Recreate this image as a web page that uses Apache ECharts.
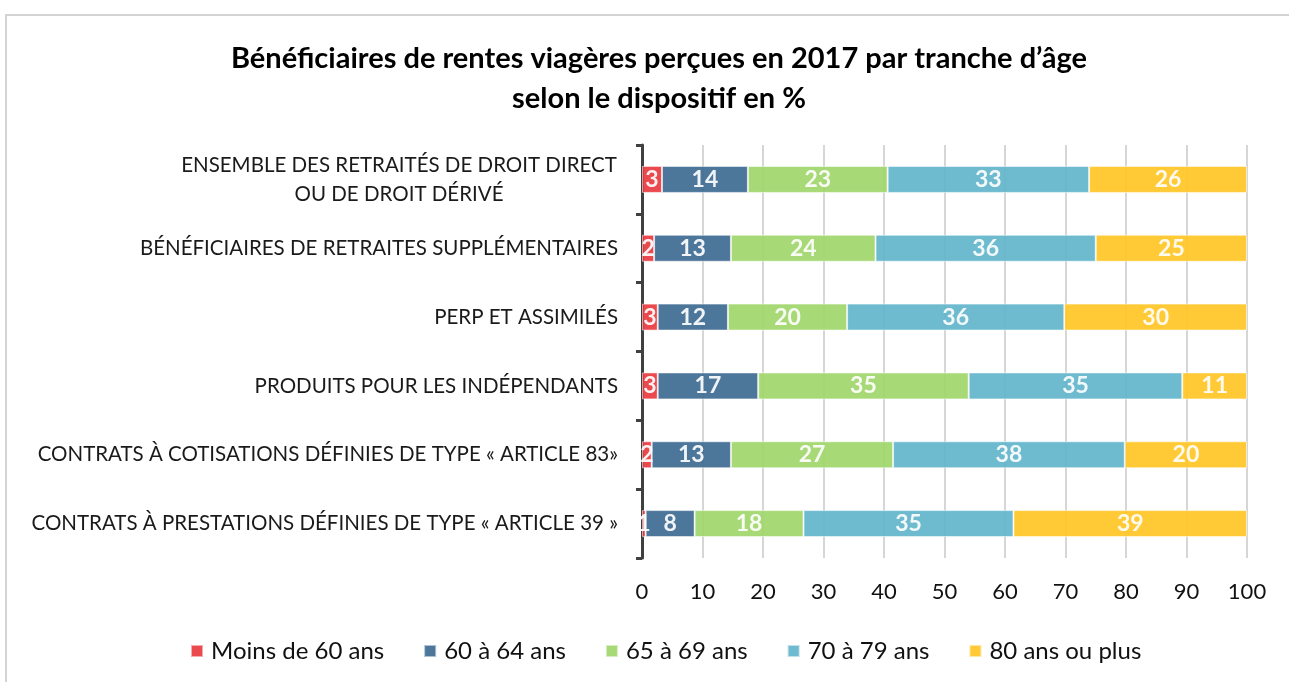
<!DOCTYPE html>
<html>
<head>
<meta charset="utf-8">
<script src="https://cdn.jsdelivr.net/npm/echarts@6/dist/echarts.min.js"></script>
<style>
  html, body { margin: 0; padding: 0; background: #fff; }
  #wrap { position: relative; width: 1289px; height: 682px; overflow: hidden; }
  #frame { position: absolute; left: 5px; top: 14px; width: 1300px; height: 700px; border: 2px solid #d4d4d4; box-sizing: border-box; }
  #main { position: absolute; left: 0; top: 0; width: 1289px; height: 682px; }
</style>
</head>
<body>
<div id="wrap">
  <div id="frame"></div>
  <div id="main"></div>
</div>
<script>
// catégories (de haut en bas)
var categories = [
    'ENSEMBLE DES RETRAITÉS DE DROIT DIRECT\nOU DE DROIT DÉRIVÉ',
    'BÉNÉFICIAIRES DE RETRAITES SUPPLÉMENTAIRES',
    'PERP ET ASSIMILÉS',
    'PRODUITS POUR LES INDÉPENDANTS',
    'CONTRATS À COTISATIONS DÉFINIES DE TYPE « ARTICLE 83»',
    'CONTRATS À PRESTATIONS DÉFINIES DE TYPE « ARTICLE 39 »'
];
var seriesNames = ['Moins de 60 ans', '60 à 64 ans', '65 à 69 ans', '70 à 79 ans', '80 ans ou plus'];
var colors = ['#E8393F', '#3E6A93', '#A0D66A', '#62B5CC', '#FFC525'];

// valeurs en %
var moins60 = [3.3, 2.0, 2.6, 2.6, 1.6, 0.6];
var de60a64 = [14.2, 12.7, 11.6, 16.6, 13.1, 8.1];
var de65a69 = [23.1, 23.9, 19.7, 34.8, 26.8, 18.0];
var de70a79 = [33.3, 36.4, 35.9, 35.3, 38.3, 34.7];
var plus80 = [26.1, 25.0, 30.2, 10.7, 20.2, 38.6];
var values = [moins60, de60a64, de65a69, de70a79, plus80];

var FONT = 'Lato, "Open Sans", sans-serif';

var myChart = echarts.init(document.getElementById('main'));

var series = seriesNames.map(function (name, i) {
    return {
        name: name,
        type: 'bar',
        stack: 'total',
        barWidth: 27,
        data: values[i],
        itemStyle: {
            color: colors[i],
            opacity: 0.92,
            borderColor: 'rgba(255,255,255,0.6)',
            borderWidth: 1
        },
        label: {
            show: true,
            position: 'inside',
            color: '#fff',
            fontFamily: FONT,
            fontWeight: 'bold',
            fontSize: 23,
            formatter: function (p) { return Math.round(p.value); }
        }
    };
});

var option = {
    backgroundColor: 'transparent',
    animation: false,
    title: {
        text: 'Bénéficiaires de rentes viagères perçues en 2017 par tranche d’âge\nselon le dispositif en %',
        left: 654,
        top: 34,
        textAlign: 'center',
        textStyle: {
            fontFamily: FONT,
            fontSize: 29,
            fontWeight: 'bold',
            color: '#000',
            lineHeight: 40,
            align: 'center'
        }
    },
    legend: {
        bottom: 14,
        left: 185,
        icon: 'rect',
        itemWidth: 12,
        itemHeight: 12,
        itemGap: 39,
        textStyle: { fontFamily: FONT, fontSize: 24, color: '#111', padding: [0, 0, 0, 3] },
        data: seriesNames
    },
    grid: {
        left: 642,
        right: 42,
        top: 145,
        bottom: 124,
        containLabel: false
    },
    xAxis: {
        type: 'value',
        min: 0,
        max: 100,
        interval: 10,
        axisLine: { show: false },
        axisTick: { show: false },
        axisLabel: { fontFamily: FONT, fontSize: 22, color: '#111', margin: 23 },
        splitLine: { lineStyle: { color: '#d6d6d6', width: 2 } }
    },
    yAxis: {
        type: 'category',
        inverse: true,
        data: categories,
        axisLine: { lineStyle: { color: '#404040', width: 3 } },
        axisTick: { show: true, length: 6, lineStyle: { color: '#404040', width: 3 } },
        axisLabel: {
            margin: 24,
            fontFamily: FONT,
            fontSize: 20.5,
            color: '#1a1a1a',
            lineHeight: 29,
            formatter: function (v) {
                if (v.indexOf('\n') >= 0) {
                    return v.split('\n').map(function (s) { return '{c|' + s + '}'; }).join('\n');
                }
                return v;
            },
            rich: {
                c: { width: 438, align: 'center', fontFamily: FONT, fontSize: 20.5, color: '#1a1a1a', lineHeight: 29 }
            }
        }
    },
    series: series
};

myChart.setOption(option);
window.addEventListener('resize', function () { myChart.resize(); });
</script>
</body>
</html>
